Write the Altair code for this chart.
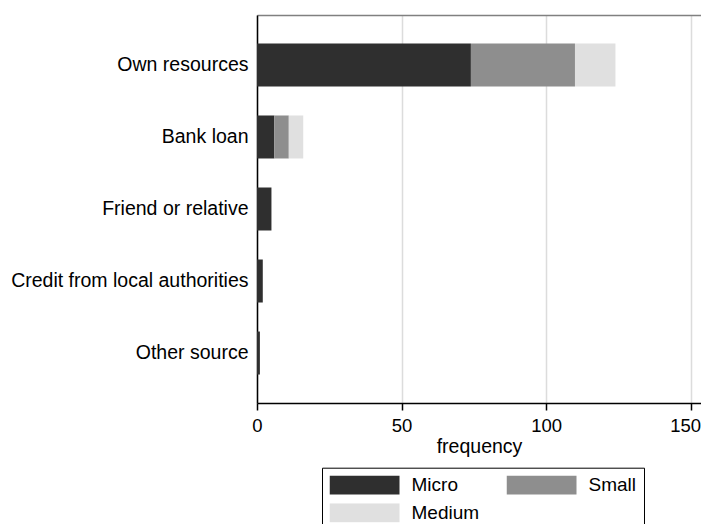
import altair as alt
import pandas as pd

categories = ["Own resources", "Bank loan", "Friend or relative",
              "Credit from local authorities", "Other source"]
sizes = ["Micro", "Small", "Medium"]
micro = [74, 6, 5, 2, 1]
small = [36, 5, 0, 0, 0]
medium = [14, 5, 0, 0, 0]
colors = ["#2f2f2f", "#8e8e8e", "#e0e0e0"]
x_ticks = [0, 50, 100, 150]

rows = []
for i, c in enumerate(categories):
    for j, (s, vals) in enumerate(zip(sizes, [micro, small, medium])):
        rows.append({"source": c, "size": s, "order": j, "frequency": vals[i]})
df = pd.DataFrame(rows)

FONT = "Liberation Sans"
x_scale = alt.Scale(domain=[0, 153.6], nice=False)
y_enc = alt.Y("source:N", sort=categories,
              scale=alt.Scale(paddingInner=0.4, paddingOuter=0.394),
              axis=alt.Axis(title=None, ticks=False, labelFontSize=19.5,
                            labelColor="black", labelPadding=9, labelFont=FONT,
                            domainColor="black", domainWidth=1.5, grid=False,
                            labelLimit=400))

bars = alt.Chart(df).mark_bar(size=43).encode(
    y=y_enc,
    x=alt.X("frequency:Q", stack="zero", scale=x_scale,
            axis=alt.Axis(values=x_ticks, title="frequency", titleFontSize=19.5,
                          titleFontWeight="normal", titleFont=FONT, titleColor="black",
                          labelFontSize=18.5, labelFont=FONT, labelColor="black",
                          labelPadding=6, tickSize=7, tickColor="black", tickWidth=1.5,
                          domainColor="black", domainWidth=1.5, titlePadding=3,
                          grid=True, gridColor="#dcdcdc", gridWidth=1.5,
                          labelFlush=False,
                          labelOffset={"condition": {"test": "datum.value == 150", "value": -5.5},
                                       "value": 0})),
    color=alt.Color("size:N", scale=alt.Scale(domain=sizes, range=colors),
                    legend=alt.Legend(title=None, orient="none", legendX=65, legendY=452.7,
                                      columns=2, direction="horizontal",
                                      symbolType="M-1,-0.27H1V0.27H-1Z",
                                      symbolSize=4900, symbolStrokeWidth=0,
                                      symbolOpacity=1, clipHeight=19,
                                      labelFontSize=19, labelFont=FONT, labelColor="black",
                                      labelOffset=12, columnPadding=27, rowPadding=8,
                                      strokeColor="black", fillColor="white",
                                      padding=7.5)),
    order=alt.Order("order:Q"),
)

top_line = alt.Chart(df).mark_bar(opacity=0).encode(
    y=y_enc,
    x=alt.X("frequency:Q", stack=None, scale=x_scale,
            axis=alt.Axis(orient="top", title=None, labels=False, ticks=False,
                          grid=False, domainColor="#808080", domainWidth=1.5)),
)

chart = alt.layer(bars, top_line).resolve_scale(x="shared").resolve_axis(
    x="independent"
).properties(
    width=444, height=388,
    autosize=alt.AutoSizeParams(type="none"),
    padding={"left": 249, "top": 7, "right": 0, "bottom": 130},
).configure_view(
    stroke=None
).configure(background="white")

chart.save("out.html", embed_options={"renderer": "svg", "actions": False})
